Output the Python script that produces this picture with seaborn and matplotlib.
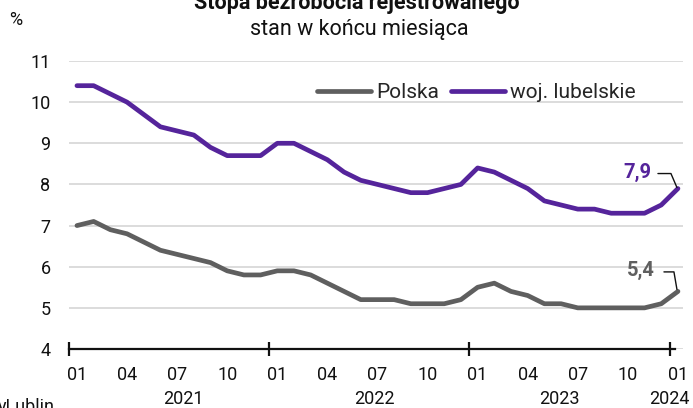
import numpy as np
import pandas as pd
import matplotlib
matplotlib.use("Agg")
import matplotlib.pyplot as plt
import matplotlib.transforms as mtransforms
from matplotlib.lines import Line2D
import seaborn as sns

# ==============================================================================
# Data
# ==============================================================================
months = pd.period_range("2021-01", "2024-01", freq="M")
polska = [7.0, 7.1, 6.9, 6.8, 6.6, 6.4, 6.3, 6.2, 6.1, 5.9, 5.8, 5.8,
          5.9, 5.9, 5.8, 5.6, 5.4, 5.2, 5.2, 5.2, 5.1, 5.1, 5.1, 5.2,
          5.5, 5.6, 5.4, 5.3, 5.1, 5.1, 5.0, 5.0, 5.0, 5.0, 5.0, 5.1, 5.4]
lubelskie = [10.4, 10.4, 10.2, 10.0, 9.7, 9.4, 9.3, 9.2, 8.9, 8.7, 8.7, 8.7,
             9.0, 9.0, 8.8, 8.6, 8.3, 8.1, 8.0, 7.9, 7.8, 7.8, 7.9, 8.0,
             8.4, 8.3, 8.1, 7.9, 7.6, 7.5, 7.4, 7.4, 7.3, 7.3, 7.3, 7.5, 7.9]
years = ["2021", "2022", "2023", "2024"]
y_ticks = [4, 5, 6, 7, 8, 9, 10, 11]

# layout of year labels (in month-index units, as placed in the original)
year_pos = [6.4, 17.8, 28.9, 35.5]

GRAY = "#5f5f5f"
PURPLE = "#55249b"

sns.set_theme(style="white")
plt.rcParams["font.family"] = ["Roboto", "DejaVu Sans"]

df = pd.DataFrame({"idx": np.arange(len(months)),
                   "Polska": polska,
                   "woj. lubelskie": lubelskie})

fig = plt.figure(figsize=(6.93, 4.08), dpi=100)
ax = fig.add_axes([0.099, 0.1446, 0.8865, 0.7059])

sns.lineplot(data=df, x="idx", y="Polska", color=GRAY, lw=3.4, ax=ax,
             label="Polska", solid_capstyle="round")
sns.lineplot(data=df, x="idx", y="woj. lubelskie", color=PURPLE, lw=3.4, ax=ax,
             label="woj. lubelskie", solid_capstyle="round")

ax.set_xlim(-0.5, 36.3)
ax.set_ylim(4, 11)
ax.set_yticks(y_ticks)
ax.set_yticklabels([str(v) for v in y_ticks], fontsize=13, color="#111111")
ax.yaxis.grid(True, color="#d9d9d9", lw=1.3)
ax.set_axisbelow(True)
ax.tick_params(axis="y", length=0, pad=13)

for s in ["left", "right", "top"]:
    ax.spines[s].set_visible(False)
ax.spines["bottom"].set_color("#111111")
ax.spines["bottom"].set_linewidth(1.6)
ax.spines["bottom"].set_bounds(-0.5, 35.8)

# major ticks at year boundaries, month labels as minor ticks
ax.set_xticks([i - 0.5 for i in range(0, len(months), 12)])
ax.set_xticklabels([])
ax.tick_params(axis="x", which="major", bottom=True, direction="inout",
               length=10, width=1.6, color="#111111")
month_idx = list(range(0, len(months), 3))
ax.set_xticks(month_idx, minor=True)
ax.set_xticklabels([f"{months[i].month:02d}" for i in month_idx], minor=True,
                   fontsize=13, color="#111111")
ax.tick_params(axis="x", which="minor", bottom=True, length=0, pad=12.5)
for yr, pos in zip(years, year_pos):
    ax.text(pos, -0.172, yr, transform=ax.get_xaxis_transform(),
            ha="center", va="center", fontsize=13, color="#111111")

ax.set_xlabel("")
ax.set_ylabel("")

ax.legend(loc="center left", bbox_to_anchor=(0.404, 0.889), ncol=2,
          frameon=False, fontsize=15, handlelength=2.6, handletextpad=0.25,
          columnspacing=0.55, borderpad=0, borderaxespad=0)

# end-value labels with leader lines
ident = mtransforms.IdentityTransform()
ends = [(lubelskie[-1], PURPLE, (-41, 16.5), [(-20, 15), (-7, 15), (-1, 1)]),
        (polska[-1], GRAY, (-37.5, 20.5), [(-14, 19.5), (-4, 19.5), (-1, 2)])]
last = len(months) - 1
for val, col, toff, path in ends:
    ax.annotate(f"{val:.1f}".replace(".", ","), xy=(last, val),
                xytext=toff, textcoords="offset pixels", ha="center",
                va="center", fontsize=14.5, fontweight="bold", color=col)
    px, py = ax.transData.transform((last, val))
    fig.add_artist(Line2D([px + dx for dx, dy in path],
                          [py + dy for dx, dy in path],
                          transform=ident, color="#111111", lw=1.0))

fig.text(0.515, 1 - 3 / 408, "Stopa bezrobocia rejestrowanego", ha="center",
         va="center", fontsize=15.5, fontweight="bold", color="#111111")
fig.text(0.518, 1 - 30 / 408, "stan w końcu miesiąca", ha="center",
         va="center", fontsize=15.5, color="#111111")
fig.text(16 / 693, 1 - 20 / 408, "%", ha="center", va="center",
         fontsize=13, color="#111111")
fig.text(-2 / 693, 1 - 398 / 408, "yLublin", ha="left", va="top",
         fontsize=13, color="#111111")

fig.savefig("out.png", dpi=100)
